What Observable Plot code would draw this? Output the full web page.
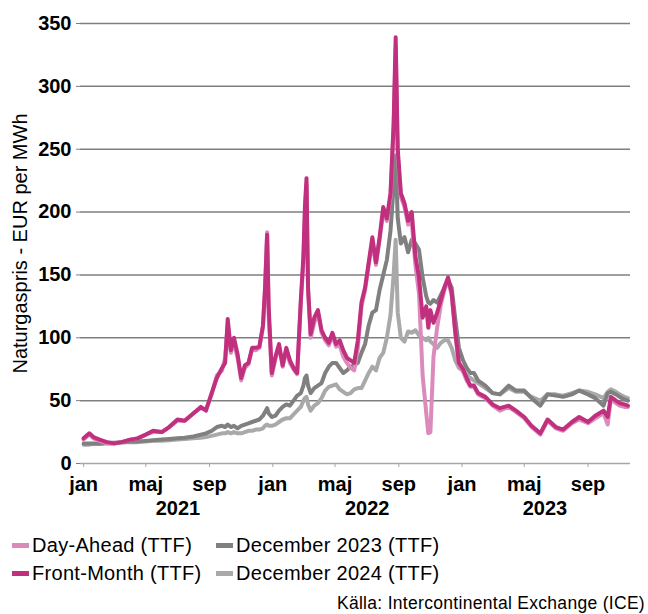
<!DOCTYPE html>
<html><head><meta charset="utf-8">
<script src="https://cdn.jsdelivr.net/npm/d3@7"></script>
<script src="https://cdn.jsdelivr.net/npm/@observablehq/plot@0.6"></script>
<style>
body{margin:0;background:#fff;font-family:"Liberation Sans",Arial,sans-serif;}
#wrap{position:relative;width:648px;height:614px;overflow:hidden;}
.leg{position:absolute;height:24px;font-size:20px;color:#000;display:flex;align-items:center;white-space:nowrap;letter-spacing:0.3px;}
.sw{display:inline-block;width:17px;height:5px;margin-right:3px;}
#cap{position:absolute;right:3px;top:593px;height:20px;line-height:20px;font-size:17.5px;letter-spacing:0.3px;color:#000;white-space:nowrap;}
</style></head>
<body><div id="wrap"><div id="chart"></div><div id="legend"></div><div id="cap">Källa: Intercontinental Exchange (ICE)</div></div>
<script>
// ---- data ----
const dates = [
  // 2021
  "2021-01-01","2021-01-12","2021-01-20","2021-02-01","2021-02-15","2021-03-01","2021-03-15","2021-04-01","2021-04-15","2021-05-01",
  "2021-05-15","2021-06-01","2021-06-15","2021-07-01","2021-07-15","2021-08-01","2021-08-15","2021-08-25","2021-09-05","2021-09-15",
  "2021-09-25","2021-10-01","2021-10-06","2021-10-12","2021-10-18","2021-10-25","2021-11-01","2021-11-08","2021-11-15","2021-11-22",
  "2021-11-29","2021-12-06","2021-12-13","2021-12-17","2021-12-21","2021-12-24","2021-12-30",
  // 2022
  "2022-01-06","2022-01-13","2022-01-20","2022-01-27","2022-02-03","2022-02-10","2022-02-17","2022-02-24","2022-03-01","2022-03-04",
  "2022-03-07","2022-03-10","2022-03-15","2022-03-22","2022-03-29","2022-04-05","2022-04-12","2022-04-19","2022-04-26","2022-05-03",
  "2022-05-10","2022-05-17","2022-05-24","2022-05-31","2022-06-07","2022-06-14","2022-06-21","2022-06-28","2022-07-05","2022-07-12",
  "2022-07-19","2022-07-26","2022-08-02","2022-08-09","2022-08-16","2022-08-22","2022-08-26","2022-08-30","2022-09-05","2022-09-12",
  "2022-09-19","2022-09-26","2022-10-03","2022-10-10","2022-10-17","2022-10-24","2022-10-28","2022-11-01","2022-11-07","2022-11-14",
  "2022-11-21","2022-11-28","2022-12-05","2022-12-12","2022-12-19","2022-12-26",
  // 2023
  "2023-01-03","2023-01-10","2023-01-17","2023-01-24","2023-02-01","2023-02-15","2023-03-01","2023-03-15","2023-04-01","2023-04-15",
  "2023-05-01","2023-05-15","2023-06-01","2023-06-15","2023-07-01","2023-07-15","2023-08-01","2023-08-15","2023-09-01","2023-09-15",
  "2023-10-01","2023-10-09","2023-10-15","2023-10-25","2023-11-01","2023-11-10","2023-11-17"
];

const dayAhead = [
  19, 23, 20, 18, 16, 16, 17, 19, 20, 23,
  25, 25, 29, 34, 34, 40, 44, 43, 55, 70,
  74, 84, 110, 88, 96, 84, 66, 76, 79, 91,
  90, 92, 108, 138, 184, 118, 70,
  83, 93, 77, 90, 80, 75, 71, 128, 160, 200,
  222, 136, 100, 112, 120, 104, 98, 94, 102, 93,
  94, 85, 80, 76, 74, 92, 125, 138, 158, 176,
  158, 178, 200, 193, 212, 266, 330, 245, 212, 204,
  190, 192, 158, 135, 70, 40, 24, 25, 85, 108,
  126, 138, 146, 134, 103, 78,
  73, 66, 61, 61, 55, 52, 46, 42, 45, 41,
  36, 29, 23, 34, 28, 26, 32, 35, 32, 36,
  40, 31, 51, 48, 46, 45, 45
];

const frontMonth = [
  20, 24, 21, 19, 17, 16, 17, 19, 20, 23,
  26, 25, 29, 35, 34, 40, 45, 42, 56, 68,
  76, 80, 115, 90, 100, 87, 68, 78, 80, 92,
  92, 93, 110, 140, 182, 125, 72,
  85, 95, 78, 92, 82, 76, 72, 130, 165, 205,
  227, 140, 103, 116, 122, 106, 100, 96, 104, 95,
  98, 90, 84, 82, 80, 98, 128, 140, 160, 180,
  160, 180, 204, 195, 215, 270, 339, 250, 215, 207,
  193, 200, 165, 148, 116, 125, 108, 122, 112, 120,
  130, 140, 148, 136, 105, 80,
  75, 68, 62, 62, 56, 53, 47, 44, 46, 42,
  37, 30, 24, 35, 29, 27, 33, 37, 33, 38,
  42, 37, 53, 50, 48, 47, 46
];

const dec2023 = [
  16, 16, 16, 16, 16.5, 16.5, 17, 17.5, 17.5, 18,
  18.5, 19, 19.5, 20, 20.5, 21.5, 23, 24, 26, 29,
  30, 29, 31, 29, 30, 28, 30, 31, 32, 33,
  34, 35, 38, 41, 44, 40, 37,
  38, 42, 45, 47, 46, 50, 54, 56, 62, 68,
  70, 62, 56, 60, 62, 64, 72, 77, 80, 80,
  76, 72, 74, 77, 78, 80, 88, 95, 110, 120,
  122, 138, 150, 162, 185, 220, 245, 195, 175, 180,
  168, 178, 175, 170, 148, 133, 128, 127, 130, 128,
  134, 140, 146, 140, 115, 92,
  82, 76, 72, 72, 66, 62, 56, 55, 62, 58,
  58, 52, 46, 55, 54, 53, 55, 58, 55, 52,
  46, 56, 57, 55, 53, 51, 50
];

const dec2024 = [
  15, 15, 15.5, 15.5, 16, 16, 16.5, 17, 17, 17.5,
  18, 18, 18.5, 19, 19.5, 20, 20.5, 21, 22, 23,
  24, 24, 25, 24, 25, 24, 24, 25, 26, 26,
  27, 27, 28, 30, 31, 30, 30,
  31, 33, 35, 36, 36, 39, 42, 45, 50, 52,
  53, 47, 42, 46, 48, 52, 58, 61, 62, 63,
  59, 57, 55, 56, 59, 60, 60, 66, 72, 77,
  74, 84, 88, 100, 118, 150, 178, 120, 100, 97,
  105, 104, 106, 102, 100, 98, 100, 97, 95, 92,
  96, 98, 98, 92, 82, 76,
  74, 70, 68, 66, 64, 60, 56, 55, 60, 57,
  57, 53, 50, 55, 55, 54, 56, 58, 57, 55,
  52, 57, 59, 57, 55, 53, 52
];

const seriesNames = ["Day-Ahead (TTF)", "Front-Month (TTF)", "December 2023 (TTF)", "December 2024 (TTF)"];
const seriesColors = ["#dc8abb", "#c1307f", "#808080", "#a9a9a9"];
const yTicks = [0, 50, 100, 150, 200, 250, 300, 350];
const monthTickDates = ["2021-01-01","2021-05-01","2021-09-01","2022-01-01","2022-05-01","2022-09-01","2023-01-01","2023-05-01","2023-09-01"];
const monthNames = ["jan","feb","mar","apr","maj","jun","jul","aug","sep","okt","nov","dec"];
const yearLabels = ["2021", "2022", "2023"];
const yearLabelDates = ["2021-07-02", "2022-07-02", "2023-06-10"];
const yTitle = "Naturgaspris - EUR per MWh";
const xDomain = ["2020-12-26", "2023-11-22"];

// ---- build ----
const parse = d3.utcParse("%Y-%m-%d");
const valueSets = [dayAhead, frontMonth, dec2023, dec2024];
const rows = (vals, name) => dates.map((d, i) => ({date: parse(d), value: vals[i], series: name}));
const drawOrder = [3, 2, 0, 1]; // bottom to top

const FONT = "'Liberation Sans', Arial, sans-serif";

const plot = Plot.plot({
  width: 648,
  height: 530,
  marginLeft: 80,
  marginRight: 18,
  marginTop: 23,
  marginBottom: 67,
  style: {fontFamily: FONT, background: "white", overflow: "visible"},
  x: {type: "utc", domain: xDomain.map(parse)},
  y: {domain: [0, 350]},
  marks: [
    Plot.ruleY(yTicks.filter(d => d > 0), {stroke: "#7f7f7f", strokeWidth: 1.5}),
    Plot.ruleY([0], {stroke: "#a6a6a6", strokeWidth: 1.5}),
    Plot.axisY({ticks: yTicks, tickSize: 4, tickPadding: 5, fontSize: 20, fontWeight: "bold",
      stroke: "#7f7f7f", fill: "#000", label: null, tickFormat: d => String(d)}),
    Plot.axisX({ticks: monthTickDates.map(parse), tickSize: 4, tickPadding: 9, fontSize: 20, fontWeight: "bold",
      stroke: "#a6a6a6", fill: "#000", label: null, tickFormat: d => monthNames[d.getUTCMonth()]}),
    Plot.text(yearLabels, {x: (d, i) => parse(yearLabelDates[i]), y: () => 0, dy: 45.5,
      lineAnchor: "middle", textAnchor: "middle", fontSize: 20, fontWeight: "bold", fill: "#000"}),
    Plot.text([yTitle], {frameAnchor: "left", dx: -60, rotate: -90, lineAnchor: "middle",
      textAnchor: "middle", fontSize: 20, fill: "#000"}),
    ...drawOrder.map(k => Plot.lineY(rows(valueSets[k], seriesNames[k]), {
      x: "date", y: "value", stroke: seriesColors[k], strokeWidth: 4,
      strokeLinejoin: "round", strokeLinecap: "round"
    }))
  ]
});
document.getElementById("chart").appendChild(plot);

// ---- legend ----
const legend = document.getElementById("legend");
const legendPos = [
  {k: 0, left: 12, top: 533},
  {k: 2, left: 216, top: 533},
  {k: 1, left: 12, top: 561},
  {k: 3, left: 216, top: 561}
];
legendPos.forEach(p => {
  const item = document.createElement("div");
  item.className = "leg";
  item.style.left = p.left + "px";
  item.style.top = p.top + "px";
  const sw = document.createElement("span");
  sw.className = "sw";
  sw.style.background = seriesColors[p.k];
  item.appendChild(sw);
  item.appendChild(document.createTextNode(seriesNames[p.k]));
  legend.appendChild(item);
});
</script>
</body></html>
